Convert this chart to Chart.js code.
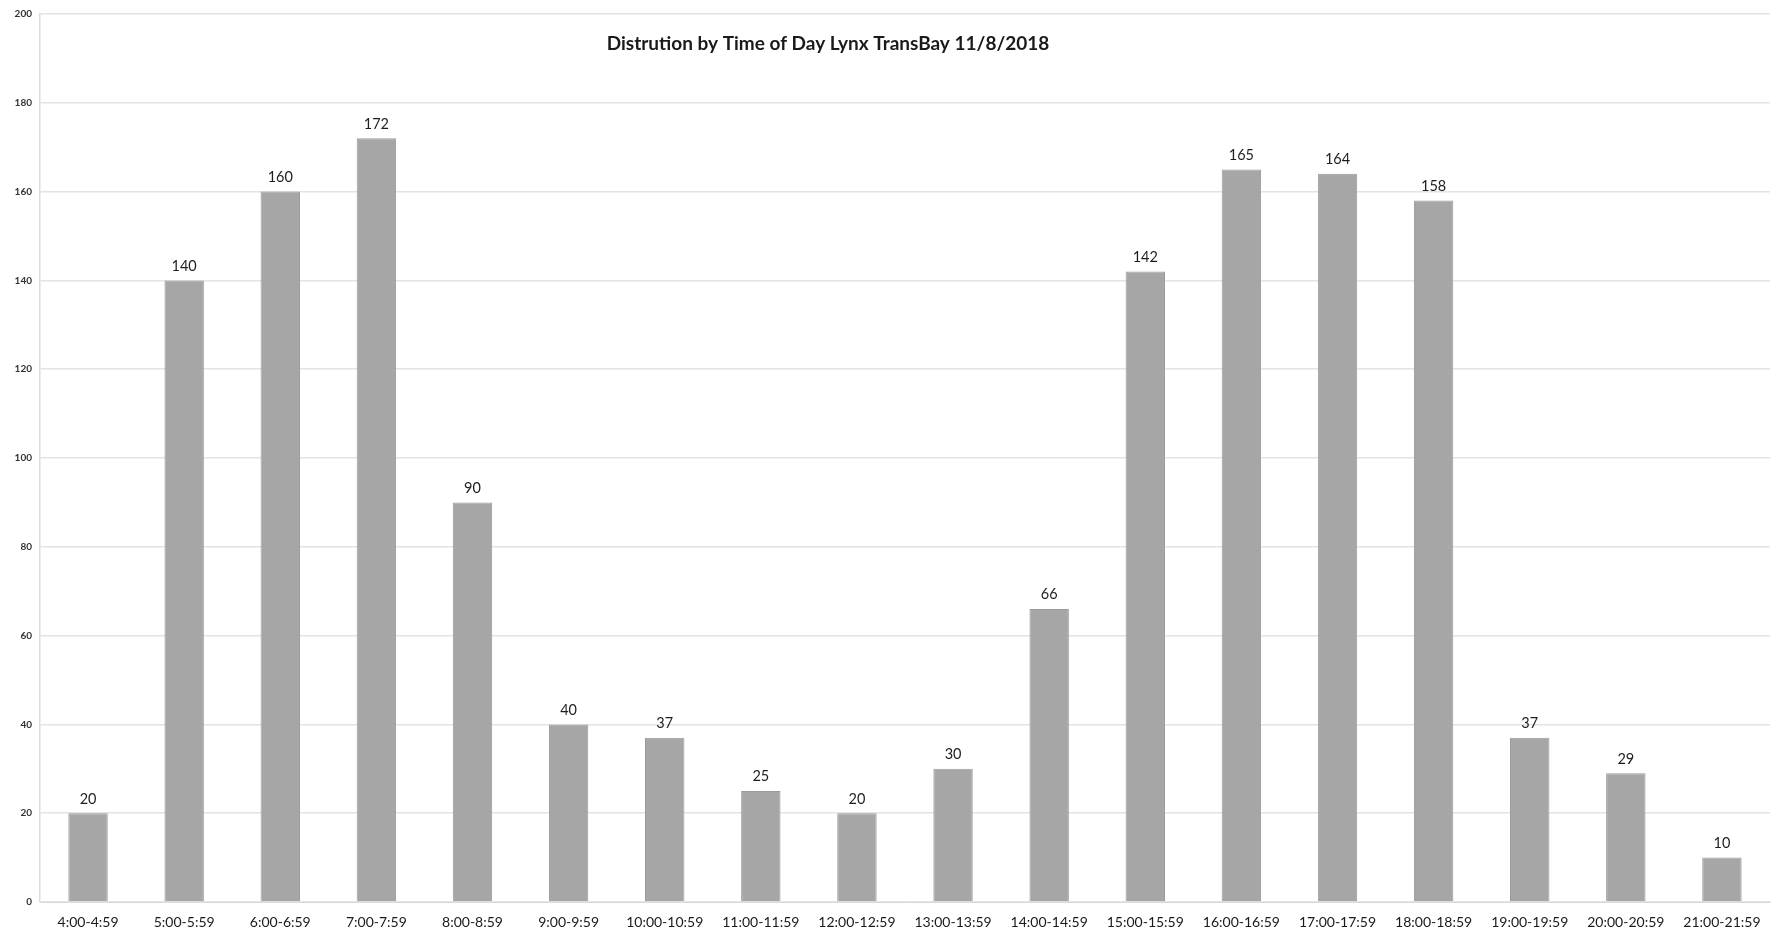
<!DOCTYPE html>
<html>
<head>
<meta charset="utf-8">
<script src="https://cdn.jsdelivr.net/npm/chart.js@4/dist/chart.umd.min.js"></script>
<style>
  html, body { margin: 0; padding: 0; background: #ffffff; }
  #wrap { width: 1781px; height: 933px; }
</style>
</head>
<body>
<div id="wrap"><canvas id="c" width="1781" height="933"></canvas></div>
<script>
// Hour-of-day buckets
const hours = [
  "4:00-4:59", "5:00-5:59", "6:00-6:59", "7:00-7:59", "8:00-8:59", "9:00-9:59",
  "10:00-10:59", "11:00-11:59", "12:00-12:59", "13:00-13:59", "14:00-14:59",
  "15:00-15:59", "16:00-16:59", "17:00-17:59", "18:00-18:59", "19:00-19:59",
  "20:00-20:59", "21:00-21:59"
];
// Riders counted in each bucket
const riders = [20, 140, 160, 172, 90, 40, 37, 25, 20, 30, 66, 142, 165, 164, 158, 37, 29, 10];
// Value axis
const yMin = 0;
const yMax = 200;
const yStep = 20;

const chartTitle = "Distrution by Time of Day Lynx TransBay 11/8/2018";

// Value text above each bar
const barValueLabels = {
  id: "barValueLabels",
  afterDatasetsDraw(chart) {
    const ctx = chart.ctx;
    const meta = chart.getDatasetMeta(0);
    ctx.save();
    ctx.fillStyle = "#1e1e1e";
    ctx.font = "14.5px Lato, 'Open Sans', sans-serif";
    ctx.textAlign = "center";
    ctx.textBaseline = "bottom";
    meta.data.forEach((bar, i) => {
      ctx.fillText(String(chart.data.datasets[0].data[i]), bar.x, bar.y - 7);
    });
    ctx.restore();
  }
};

// Title drawn inside the plot area
const innerTitle = {
  id: "innerTitle",
  afterDraw(chart) {
    const ctx = chart.ctx;
    const a = chart.chartArea;
    ctx.save();
    ctx.fillStyle = "#1a1a1a";
    ctx.font = "bold 19px Lato, 'Open Sans', sans-serif";
    ctx.textAlign = "center";
    ctx.textBaseline = "middle";
    ctx.fillText(chartTitle, a.left + (a.right - a.left) * 0.4555, a.top + 30);
    ctx.restore();
  }
};

new Chart(document.getElementById("c"), {
  type: "bar",
  data: {
    labels: hours,
    datasets: [{
      data: riders,
      backgroundColor: "#a6a6a6",
      borderColor: "#9a9a9a",
      borderWidth: 1,
      categoryPercentage: 1.0,
      barPercentage: 0.41
    }]
  },
  options: {
    responsive: false,
    animation: false,
    devicePixelRatio: 1,
    layout: { padding: { top: 12, right: 11, bottom: 0, left: 0 } },
    plugins: {
      legend: { display: false },
      title: { display: false },
      tooltip: { enabled: false }
    },
    scales: {
      x: {
        grid: { display: false, drawTicks: false },
        border: { color: "#d9d9d9", width: 1 },
        ticks: {
          color: "#1a1a1a",
          font: { family: "Lato, 'Open Sans', sans-serif", size: 14 },
          maxRotation: 0,
          autoSkip: false,
          padding: 12
        },
        afterFit(scale) { scale.height = 31; }
      },
      y: {
        min: yMin,
        max: yMax,
        ticks: {
          stepSize: yStep,
          color: "#333333",
          font: { family: "Lato, 'Open Sans', sans-serif", size: 10, weight: "bold" },
          padding: 8
        },
        grid: { color: "#e3e3e3", lineWidth: 1.5, drawTicks: false },
        border: { color: "#dcdcdc", width: 1.5 },
        afterFit(scale) { scale.width = 40; }
      }
    }
  },
  plugins: [barValueLabels, innerTitle]
});
</script>
</body>
</html>
